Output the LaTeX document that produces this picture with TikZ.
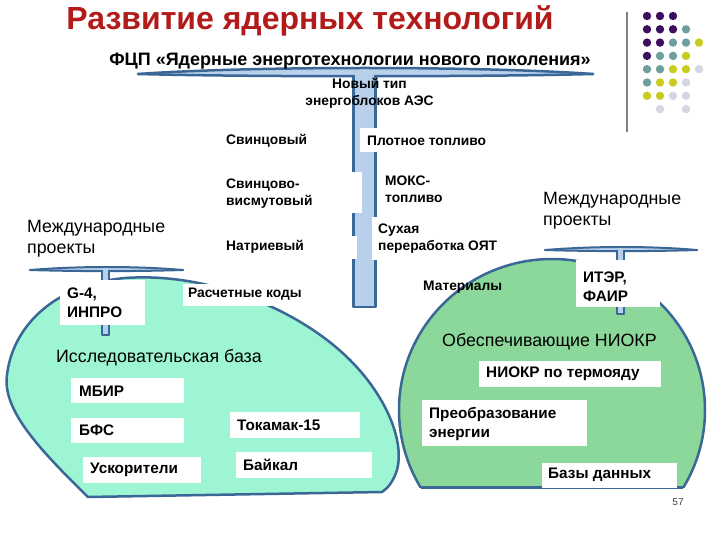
\documentclass[tikz,border=0pt]{standalone}
\usepackage{fontspec}
\setmainfont{Liberation Sans}
\definecolor{outl}{HTML}{3B6796}
\definecolor{stemfill}{HTML}{B8D0EC}
\definecolor{lblob}{HTML}{9DF5D3}
\definecolor{rblob}{HTML}{8BD89A}
\definecolor{titlered}{HTML}{B31B1B}
\definecolor{dpurple}{HTML}{3B0F5E}
\definecolor{dteal}{HTML}{6E9E9E}
\definecolor{dyellow}{HTML}{C9CC1F}
\definecolor{dlav}{HTML}{D5D5E5}
\tikzset{
  lbl/.style={font=\bfseries\fontsize{13.8}{17}\selectfont, inner sep=0, anchor=west, align=left},
  boxlbl/.style={font=\bfseries\fontsize{15.3}{19}\selectfont, inner sep=0, anchor=west, align=left},
  reg/.style={font=\fontsize{17.8}{20.5}\selectfont, inner sep=0, anchor=west, align=left},
  wbox/.style={fill=white, draw=none, inner sep=0, anchor=north west},
  shapeline/.style={draw=outl, line width=2.5pt, line join=round},
  tshape/.style={draw=outl, fill=stemfill, line width=2.5pt, line join=round},
  tsmall/.style={draw=outl, fill=stemfill, line width=2pt, line join=round},
  barline/.style={draw=outl, line width=2.5pt, line cap=round},
  barsmall/.style={draw=outl, line width=2pt, line cap=round},
  dot/.style={circle, inner sep=0, minimum size=8.4pt, draw=none}
}
\begin{document}
\begin{tikzpicture}[x=1pt,y=-1pt]
\useasboundingbox (0,0) rectangle (720,540);

% left blob
\path[shapeline, fill=lblob] (88,497) .. controls (40,450) and (2,410) .. (7,375)
  .. controls (12,330) and (50,285) .. (125,278)
  .. controls (210,272) and (300,310) .. (350,360)
  .. controls (385,395) and (405,440) .. (397,470)
  .. controls (393,482) and (388,488) .. (382,492) -- cycle;

% right blob
\begin{scope}
  \clip (0,0) rectangle (720,487.5);
  \path[shapeline, fill=rblob] (552,410) ellipse [x radius=153, y radius=151];
\end{scope}
\draw[shapeline] (420.7,487.5) -- (683.3,487.5);

% main T
\path[tshape] (353.5,74) rectangle (375.5,307);
\fill[stemfill] (138,74) .. controls (250,66) and (480,66) .. (593,74)
  .. controls (480,77) and (250,77) .. (138,74) -- cycle;
\draw[barline] (138,74) .. controls (250,66) and (480,66) .. (593,74);
\draw[barline] (138,74) .. controls (250,77) and (480,77) .. (593,74);
\fill[stemfill] (355,72) rectangle (374,80);

% left small T
\path[tsmall] (102,270) rectangle (109,335);
\fill[stemfill] (30,270) .. controls (80,266) and (135,266) .. (183,270)
  .. controls (135,271.5) and (80,271.5) .. (30,270) -- cycle;
\draw[barsmall] (30,270) .. controls (80,266) and (135,266) .. (183,270);
\draw[barsmall] (30,270) .. controls (80,271.5) and (135,271.5) .. (183,270);
\fill[stemfill] (103,268) rectangle (108,274);

% right small T
\path[tsmall] (617,250) rectangle (624,314);
\fill[stemfill] (545,250) .. controls (595,246) and (650,246) .. (697,250)
  .. controls (650,251.5) and (595,251.5) .. (545,250) -- cycle;
\draw[barsmall] (545,250) .. controls (595,246) and (650,246) .. (697,250);
\draw[barsmall] (545,250) .. controls (595,251.5) and (650,251.5) .. (697,250);
\fill[stemfill] (618,248) rectangle (623,254);

% white boxes
\node[wbox, minimum width=132, minimum height=24] (bPlot) at (360,128) {};
\node[wbox, minimum width=140, minimum height=41] (bSvBi) at (222,172) {};
\node[wbox, minimum width=135, minimum height=23] (bNa) at (222,236) {};
\node[wbox, minimum width=128, minimum height=43] (bSuh) at (372,217) {};
\node[wbox, minimum width=124, minimum height=22] (bRasch) at (183,284) {};
\node[wbox, minimum width=85, minimum height=45] (bG4) at (60,280) {};
\node[wbox, minimum width=84, minimum height=47] (bITER) at (576,260) {};
\node[wbox, minimum width=113, minimum height=25] (bMBIR) at (71,378) {};
\node[wbox, minimum width=113, minimum height=25] (bBFS) at (71,418) {};
\node[wbox, minimum width=118, minimum height=26] (bUsk) at (83,457) {};
\node[wbox, minimum width=130, minimum height=26] (bTok) at (230,412) {};
\node[wbox, minimum width=136, minimum height=26] (bBaik) at (236,452) {};
\node[wbox, minimum width=182, minimum height=26] (bNIOKR) at (479,361) {};
\node[wbox, minimum width=165, minimum height=46] (bPreob) at (422,400) {};
\node[wbox, minimum width=135, minimum height=25] (bBazy) at (542,463) {};

% title
\node[inner sep=0, text=titlered, font=\bfseries\fontsize{32}{38}\selectfont] (title) at (310,21) {Развитие ядерных технологий};
\node[inner sep=0, font=\bfseries\fontsize{18}{22}\selectfont] (sub) at (350,61) {ФЦП «Ядерные энерготехнологии нового поколения»};

% stem labels
\node[lbl, anchor=center, align=center] (novyi) at (369.5,93.5) {Новый тип\\энергоблоков АЭС};
\node[lbl] (svin) at (226,141) {Свинцовый};
\node[lbl] (svbi) at (226,193.5) {Свинцово-\\висмутовый};
\node[lbl] (natr) at (226,246.5) {Натриевый};
\node[lbl] (plot) at (367,141) {Плотное топливо};
\node[lbl] (moks) at (385,189) {МОКС-\\топливо};
\node[lbl] (suh) at (378,238.5) {Сухая\\переработка ОЯТ};
\node[lbl] (rasch) at (188,294) {Расчетные коды};
\node[lbl] (mater) at (423,287) {Материалы};

% regular labels
\node[reg] (mpL) at (27,238.5) {Международные\\проекты};
\node[reg] (mpR) at (543,210.5) {Международные\\проекты};
\node[reg] (issl) at (56,358) {Исследовательская база};
\node[reg] (obes) at (442,342) {Обеспечивающие НИОКР};

% box labels
\node[boxlbl] (tG4) at (67,302.5) {G-4,\\ИНПРО};
\node[boxlbl] (tITER) at (583,287) {ИТЭР,\\ФАИР};
\node[boxlbl] (tMBIR) at (79,391) {МБИР};
\node[boxlbl] (tBFS) at (79,430.5) {БФС};
\node[boxlbl] (tUsk) at (90,470) {Ускорители};
\node[boxlbl] (tTok) at (237,425) {Токамак-15};
\node[boxlbl] (tBaik) at (243,465) {Байкал};
\node[boxlbl] (tNIOKR) at (486,374) {НИОКР по термояду};
\node[boxlbl] (tPreob) at (429,423.5) {Преобразование\\энергии};
\node[boxlbl] (tBazy) at (548,474.5) {Базы данных};

\node[inner sep=0, font=\fontsize{10}{12}\selectfont, text=black!75] (pnum) at (678,502) {57};

% decoration
\draw[line width=2pt, gray] (627,12) -- (627,132);
\foreach \c/\col/\row in {
  dpurple/0/0, dpurple/1/0, dpurple/2/0,
  dpurple/0/1, dpurple/1/1, dpurple/2/1, dteal/3/1,
  dpurple/0/2, dpurple/1/2, dteal/2/2, dteal/3/2, dyellow/4/2,
  dpurple/0/3, dteal/1/3, dteal/2/3, dyellow/3/3,
  dteal/0/4, dteal/1/4, dyellow/2/4, dyellow/3/4, dlav/4/4,
  dteal/0/5, dyellow/1/5, dyellow/2/5, dlav/3/5,
  dyellow/0/6, dyellow/1/6, dlav/2/6, dlav/3/6,
  dlav/1/7, dlav/3/7}
  \node[dot, fill=\c] (d\col\row) at ({647+13*\col},{16+13.3*\row}) {};
\end{tikzpicture}
\end{document}
